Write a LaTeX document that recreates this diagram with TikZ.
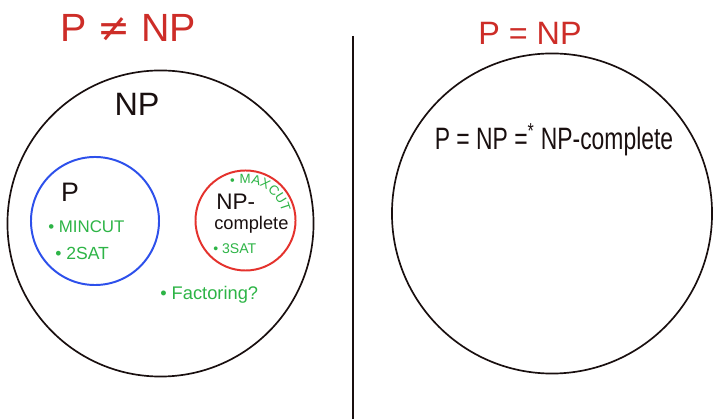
\documentclass[tikz,border=0pt]{standalone}
\usepackage{fontspec}
\setmainfont{Liberation Sans}
\newfontfamily\simbolos{DejaVu Sans}
\usetikzlibrary{decorations.text}

\definecolor{rojo}{RGB}{205,45,40}
\definecolor{rojoc}{RGB}{228,50,45}
\definecolor{azul}{RGB}{45,80,235}
\definecolor{verde}{RGB}{45,180,70}
\definecolor{negro}{RGB}{25,15,15}

\begin{document}
\begin{tikzpicture}[
        x=0.025cm, y=0.025cm,
        conjunto/.style={
            circle,
            inner sep=0pt,
            draw=negro,
            line width=1.2pt
        },
        titulo/.style={
            text=rojo,
            inner sep=0pt,
            font=\fontsize{28}{30}\selectfont
        },
        etiqueta/.style={
            text=negro,
            inner sep=0pt,
            font=\fontsize{22}{24}\selectfont
        },
        ejemplo/.style={
            text=verde,
            inner sep=0pt,
            anchor=west,
            font=\fontsize{12}{14}\selectfont
        }
    ]
        \useasboundingbox (0,0) rectangle (714,419);

        % lado izquierdo: P distinto de NP
        \node[titulo] (tituloizq) at (128,391) {P {\simbolos ≠} NP};
        \node[conjunto, minimum size=7.65cm] (np) at (160.5,195.5) {};
        \node[etiqueta, font=\fontsize{23}{25}\selectfont] (nptexto) at (137,315) {NP};

        \node[conjunto, draw=azul, line width=1.4pt, minimum size=3.2cm] (p) at (95,198) {};
        \node[etiqueta, font=\fontsize{19}{21}\selectfont] (ptexto) at (70,227) {P};
        \node[ejemplo] (mincut) at (48,192) {• MINCUT};
        \node[ejemplo, font=\fontsize{12.5}{14}\selectfont] (dossat) at (55,166) {• 2SAT};

        \node[conjunto, draw=rojoc, line width=1.4pt, minimum size=2.5cm] (npc) at (245.5,198.5) {};
        \node[etiqueta, anchor=west, font=\fontsize{16}{18}\selectfont] (npprefijo) at (216,217) {NP-};
        \node[etiqueta, anchor=west, font=\fontsize{13}{15}\selectfont] (npsufijo) at (214,194) {complete};
        \path[decorate, decoration={text along path, text align=center,
                text={|\fontsize{9.5}{11}\selectfont\color{verde}|• MAXCUT}}]
            (npc.center) ++(114:0.93cm) arc[start angle=114, end angle=10, radius=0.93cm];
        \node[ejemplo, font=\fontsize{10}{12}\selectfont] (tressat) at (213,170) {• 3SAT};

        \node[ejemplo, font=\fontsize{13}{15}\selectfont] (factoring) at (160,124) {• Factoring?};

        % separador
        \coordinate (separadorarriba) at (353,383);
        \coordinate (separadorabajo) at (353,0);
        \draw[negro, line width=1.3pt] (separadorarriba) -- (separadorabajo);

        % lado derecho: P igual a NP
        \node[titulo, font=\fontsize{23}{25}\selectfont] (tituloder) at (530,386) {P = NP};
        \node[conjunto, minimum size=8.0cm] (todo) at (552,205.5) {};
        \node[etiqueta] (igualdad) at (554,279)
            {\scalebox{0.74}[1]{P = NP =\textsuperscript{*} NP-complete}};
    \end{tikzpicture}
\end{document}
